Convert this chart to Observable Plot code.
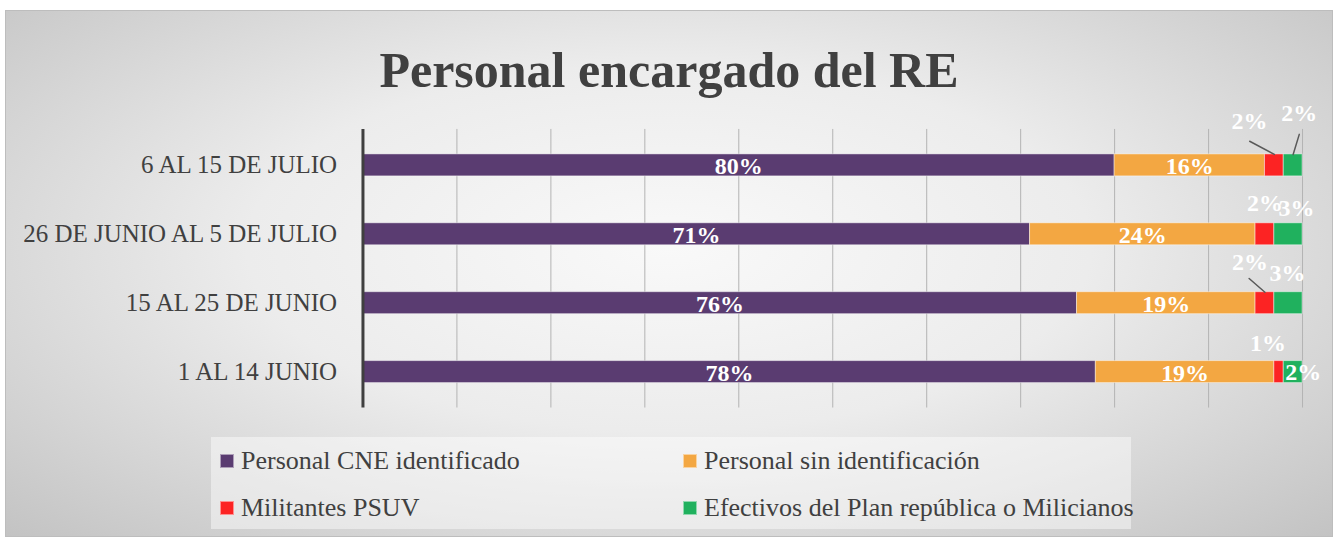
<!DOCTYPE html>
<html>
<head>
<meta charset="utf-8">
<script src="https://cdn.jsdelivr.net/npm/d3@7"></script>
<script src="https://cdn.jsdelivr.net/npm/@observablehq/plot@0.6"></script>
<style>
  html, body { margin: 0; padding: 0; background: #ffffff; }
  body { width: 1335px; height: 538px; position: relative; overflow: hidden; font-family: "Liberation Serif", serif; }
  #frame {
    position: absolute; left: 5px; top: 10px; width: 1328px; height: 527px;
    box-sizing: border-box; border: 1px solid #bdbdbd;
    background: radial-gradient(ellipse farthest-corner at 50% 45%, #f9f9f9 0%, #ececec 45%, #c3c3c3 100%);
  }
  #title {
    position: absolute; left: 0; top: 34px; width: 100%; text-align: center;
    font-size: 50px; line-height: 50px; font-weight: bold; color: #404040;
  }
  #chart { position: absolute; left: 0; top: 85px; }
  #legend {
    position: absolute; left: 205px; top: 426px; width: 920px; height: 92px;
    background: rgba(255,255,255,0.45);
  }
  .item { position: absolute; display: flex; align-items: center; font-size: 26px; color: #404040; white-space: nowrap; }
  .sw { width: 14px; height: 14px; margin-right: 7px; box-sizing: border-box; border: 1px solid rgba(255,255,255,0.5); }
</style>
</head>
<body>
<div id="frame">
  <div id="title">Personal encargado del RE</div>
  <div id="chart"></div>
  <div id="legend"></div>
</div>
<script>
// ---- data ----
const periods = ["6 AL 15 DE JULIO", "26 DE JUNIO AL 5 DE JULIO", "15 AL 25 DE JUNIO", "1 AL 14 JUNIO"];
const seriesNames = ["Personal CNE identificado", "Personal sin identificación", "Militantes PSUV", "Efectivos del Plan república o Milicianos"];
const cne = [80, 71, 76, 78];
const sinId = [16, 24, 19, 19];
const psuv = [2, 2, 2, 1];
const efectivos = [2, 3, 3, 2];
const xTicks = [0, 10, 20, 30, 40, 50, 60, 70, 80, 90, 100];

// ---- styles ----
const colors = ["#5a3c71", "#f3a742", "#fc2323", "#20b15e"];

const seriesValues = [cne, sinId, psuv, efectivos];
const rows = [];
periods.forEach((p, i) => {
  let acc = 0;
  seriesValues.forEach((vals, s) => {
    const v = vals[i];
    rows.push({period: p, series: seriesNames[s], si: s, pi: i, value: v, x1: acc, x2: acc + v, mid: acc + v / 2});
    acc += v;
  });
});

// outside-label placement (pixel offsets from segment centre)
const outside = [
  {pi: 0, si: 2, dx: -25, dy: -44}, {pi: 0, si: 3, dx: 6, dy: -52},
  {pi: 1, si: 2, dx: 0, dy: -31},   {pi: 1, si: 3, dx: 8, dy: -26},
  {pi: 2, si: 2, dx: -15, dy: -41}, {pi: 2, si: 3, dx: -1, dy: -30},
  {pi: 3, si: 2, dx: -11, dy: -29}, {pi: 3, si: 3, dx: 10, dy: 0}
];
const leaders = [
  {pi: 0, si: 2, length: 28, rotate: -62}, {pi: 0, si: 3, length: 21, rotate: 17},
  {pi: 2, si: 2, length: 21, rotate: -49}
];
const pick = (pi, si) => rows.filter(d => d.pi === pi && d.si === si);

const marks = [
  Plot.ruleX(xTicks.slice(1), {stroke: "#b3b3b3", strokeWidth: 1}),
  Plot.barX(rows, {x1: "x1", x2: "x2", y: "period", fill: "series", stroke: "white", strokeOpacity: 0.45, strokeWidth: 1}),
  Plot.ruleX([0], {stroke: "#3f3f3f", strokeWidth: 3}),
  Plot.axisY({tickSize: 0, tickPadding: 26, fontSize: 25, fill: "#404040", label: null}),
  Plot.text(rows.filter(d => d.si < 2), {x: "mid", y: "period", text: d => d.value + "%", fill: "white", fontWeight: "bold", fontSize: 24, dy: 1})
];
for (const o of outside) {
  marks.push(Plot.text(pick(o.pi, o.si), {x: "mid", y: "period", text: d => d.value + "%", fill: "white", fontWeight: "bold", fontSize: 24, dx: o.dx, dy: o.dy}));
}
for (const l of leaders) {
  marks.push(Plot.vector(pick(l.pi, l.si), {x: "mid", y: "period", length: l.length, rotate: l.rotate, anchor: "start", r: 0, dy: -11, stroke: "#595959", strokeWidth: 1.5}));
}

const chart = Plot.plot({
  width: 1328,
  height: 330,
  marginLeft: 357,
  marginRight: 30,
  marginTop: 33,
  marginBottom: 18,
  style: {background: "transparent", fontFamily: "'Liberation Serif', serif", overflow: "visible"},
  x: {domain: [0, 100], axis: null},
  y: {domain: periods, paddingInner: 0.683, paddingOuter: 0.355, label: null},
  color: {domain: seriesNames, range: colors},
  marks
});
document.getElementById("chart").appendChild(chart);

// legend
const legend = document.getElementById("legend");
const pos = [[9, 24], [472, 24], [9, 71], [472, 71]];
seriesNames.forEach((name, i) => {
  const it = document.createElement("div");
  it.className = "item";
  it.style.left = pos[i][0] + "px";
  it.style.top = (pos[i][1] - 15) + "px";
  it.style.height = "30px";
  const sw = document.createElement("span");
  sw.className = "sw";
  sw.style.background = colors[i];
  const tx = document.createElement("span");
  tx.textContent = name;
  it.appendChild(sw); it.appendChild(tx);
  legend.appendChild(it);
});
</script>
</body>
</html>
